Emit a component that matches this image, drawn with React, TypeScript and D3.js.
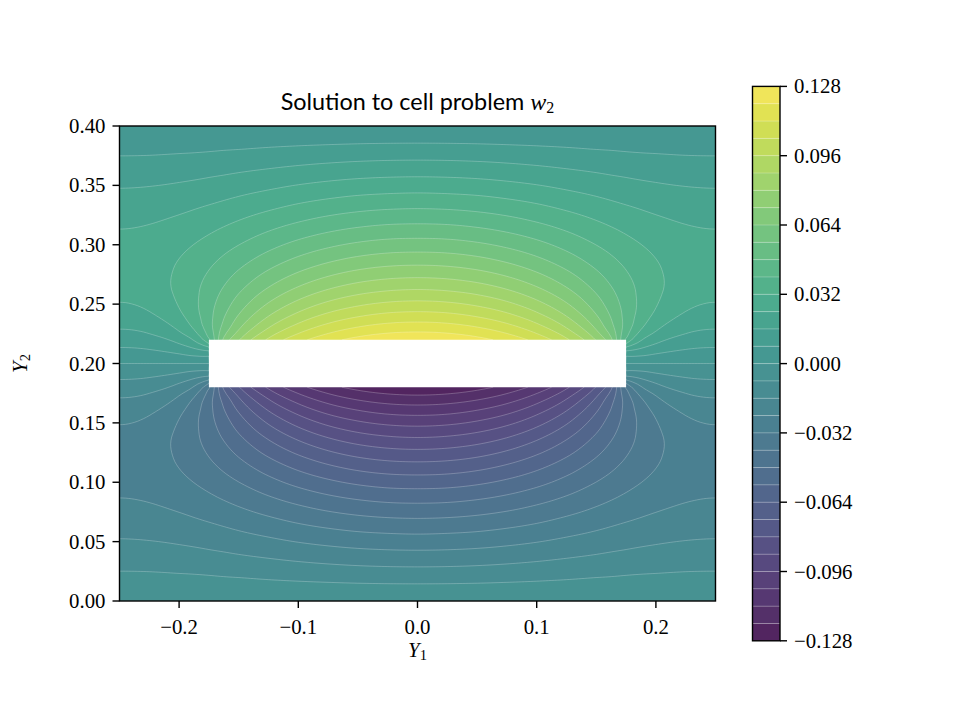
import React, { useMemo } from "react";
import * as d3 from "d3";

// ---------- data (upper-right quadrant of the cell; the field is even in Y1 and odd about Y2 = 0.2) ----------
// sample positions of |Y1|
const Y1_ABS_NODES = [0, 0.025, 0.05, 0.075, 0.1, 0.125, 0.15, 0.1625, 0.175, 0.1875, 0.2, 0.225, 0.25];
// sample positions of Y2 (upper half)
const Y2_NODES = [0.2, 0.21, 0.22, 0.23, 0.24, 0.26, 0.28, 0.3, 0.32, 0.34, 0.36, 0.38, 0.4];
// w2 values in thousandths, one row per Y2 node (null = inside the hole)
const W2_MILLI: (number | null)[][] = [
  [null, null, null, null, null, null, null, null, 0, 0, 0, 0, 0],
  [null, null, null, null, null, null, null, null, 14.4, 12.5, 9.8, 6.8, 6.0],
  [126.5, 125.6, 122.5, 117.2, 109.2, 97.4, 79.3, 65.6, 38.5, 24.8, 18.8, 13.1, 11.6],
  [116.7, 115.7, 112.7, 107.5, 99.5, 88.0, 70.8, 58.8, 44.6, 32.9, 25.7, 18.5, 16.5],
  [107.3, 106.4, 103.4, 98.4, 90.7, 79.9, 64.7, 55.3, 45.4, 36.6, 30.1, 22.7, 20.6],
  [89.9, 89.0, 86.4, 81.9, 75.3, 66.5, 55.5, 49.5, 43.6, 38.2, 33.7, 27.7, 25.7],
  [74.1, 73.4, 71.2, 67.4, 62.1, 55.4, 47.6, 43.6, 39.7, 36.1, 33.0, 28.7, 27.3],
  [59.7, 59.2, 57.4, 54.4, 50.4, 45.4, 39.9, 37.2, 34.5, 32.1, 30.0, 27.0, 26.0],
  [46.5, 46.1, 44.7, 42.5, 39.5, 36.0, 32.2, 30.3, 28.5, 26.8, 25.4, 23.4, 22.7],
  [34.2, 33.8, 32.9, 31.3, 29.3, 26.8, 24.3, 23.0, 21.8, 20.8, 19.8, 18.5, 18.0],
  [22.4, 22.2, 21.6, 20.6, 19.3, 17.8, 16.3, 15.5, 14.8, 14.1, 13.6, 12.8, 12.5],
  [11.1, 11.0, 10.7, 10.2, 9.6, 8.9, 8.1, 7.8, 7.4, 7.1, 6.9, 6.5, 6.4],
  [0, 0, 0, 0, 0, 0, 0, 0, 0, 0, 0, 0, 0],
];
const LEVELS = [
  -0.128, -0.12, -0.112, -0.104, -0.096, -0.088, -0.08, -0.072, -0.064, -0.056, -0.048, -0.04, -0.032, -0.024, -0.016, -0.008,
  0, 0.008, 0.016, 0.024, 0.032, 0.04, 0.048, 0.056, 0.064, 0.072, 0.08, 0.088, 0.096, 0.104, 0.112, 0.12, 0.128,
];
const X_TICKS = [-0.2, -0.1, 0.0, 0.1, 0.2];
const Y_TICKS = [0.0, 0.05, 0.1, 0.15, 0.2, 0.25, 0.3, 0.35, 0.4];
const CBAR_TICKS = [-0.128, -0.096, -0.064, -0.032, 0.0, 0.032, 0.064, 0.096, 0.128];
const DOMAIN_Y1 = [-0.25, 0.25];
const DOMAIN_Y2 = [0, 0.4];
const HOLE_Y1 = [-0.175, 0.175];
const HOLE_Y2 = [0.18, 0.22];

// ---------- layout / style ----------
const PLOT = { left: 119.5, right: 715.5, top: 126, bottom: 601 };
const CBAR = { left: 752.5, right: 780, top: 86.4, bottom: 640.8 };
const ALPHA = 0.9;
const DESAT = 0.22;
const STEP = 0.0025; // rendering resolution of the contour grid
const SERIF = "'Liberation Serif', 'DejaVu Serif', serif";
const SANS = "Lato, 'Open Sans', 'DejaVu Sans', sans-serif";
const FS = 20.8;

// smooth C1 cubic through the samples (weighted centred tangents)
function cubicThrough(xs: number[], ys: number[], flatEnds: boolean) {
  const n = xs.length;
  if (n === 1) return () => ys[0];
  const s: number[] = [];
  for (let k = 0; k < n - 1; k++) s.push((ys[k + 1] - ys[k]) / (xs[k + 1] - xs[k]));
  const m = new Array(n).fill(0);
  for (let k = 1; k < n - 1; k++) {
    const h0 = xs[k] - xs[k - 1], h1 = xs[k + 1] - xs[k];
    m[k] = (s[k - 1] * h1 + s[k] * h0) / (h0 + h1);
  }
  if (flatEnds) {
    m[0] = 0;
    m[n - 1] = 0;
  } else {
    m[0] = n > 2 ? (3 * s[0] - m[1]) / 2 : s[0];
    m[n - 1] = n > 2 ? (3 * s[n - 2] - m[n - 2]) / 2 : s[n - 2];
  }
  return (x: number) => {
    let k = 0;
    while (k < n - 2 && x > xs[k + 1]) k++;
    const h = xs[k + 1] - xs[k];
    const t = (x - xs[k]) / h;
    const t2 = t * t, t3 = t2 * t;
    return (2 * t3 - 3 * t2 + 1) * ys[k] + (t3 - 2 * t2 + t) * h * m[k] + (-2 * t3 + 3 * t2) * ys[k + 1] + (t3 - t2) * h * m[k + 1];
  };
}

function styleColor(c: string) {
  const rgb = d3.rgb(c);
  let r = rgb.r * ALPHA + 255 * (1 - ALPHA);
  let g = rgb.g * ALPHA + 255 * (1 - ALPHA);
  let b = rgb.b * ALPHA + 255 * (1 - ALPHA);
  const L = 0.299 * r + 0.587 * g + 0.114 * b;
  r = r + (L - r) * DESAT;
  g = g + (L - g) * DESAT;
  b = b + (L - b) * DESAT;
  return d3.rgb(r, g, b).formatHex();
}

const bandColor = (k: number) => styleColor(d3.interpolateViridis((k + 0.5) / (LEVELS.length - 1)));

export default function App() {
  const x = d3.scaleLinear().domain(DOMAIN_Y1).range([PLOT.left, PLOT.right]);
  const y = d3.scaleLinear().domain(DOMAIN_Y2).range([PLOT.bottom, PLOT.top]);
  const c = d3.scaleLinear().domain([LEVELS[0], LEVELS[LEVELS.length - 1]]).range([CBAR.bottom, CBAR.top]);

  const contours = useMemo(() => {
    const y2Mid = (DOMAIN_Y2[0] + DOMAIN_Y2[1]) / 2;
    const halfW = DOMAIN_Y1[1];
    const nq = Math.round(halfW / STEP) + 1;
    const np = Math.round((DOMAIN_Y2[1] - y2Mid) / STEP) + 1;
    const rowVals = W2_MILLI.map((row) => {
      const idx = row.map((v, ci) => (v === null ? -1 : ci)).filter((ci) => ci >= 0);
      const xs = idx.map((ci) => Y1_ABS_NODES[ci]);
      const vs = idx.map((ci) => (row[ci] as number) / 1000);
      const f = cubicThrough(xs, vs, true);
      return d3.range(nq).map((q) => {
        const xv = q * STEP;
        return xv < xs[0] - 1e-9 ? NaN : f(xv);
      });
    });
    const Q = d3.range(nq).map((q) => {
      const rIdx = rowVals.map((rv, r) => (isNaN(rv[q]) ? -1 : r)).filter((r) => r >= 0);
      const ys = rIdx.map((r) => Y2_NODES[r]);
      const vs = rIdx.map((r) => rowVals[r][q]);
      const f = cubicThrough(ys, vs, false);
      return d3.range(np).map((p) => {
        const yv = y2Mid + p * STEP;
        return yv < ys[0] - 1e-9 ? NaN : f(yv);
      });
    });
    const surf = Math.round((HOLE_Y2[1] - y2Mid) / STEP);
    const nx = 2 * (nq - 1) + 1;
    const ny = 2 * (np - 1) + 1;
    const vals = new Array(nx * ny);
    for (let j = 0; j < ny; j++) {
      for (let i = 0; i < nx; i++) {
        const q = Math.abs(i - (nq - 1));
        let v: number;
        if (j <= np - 1) {
          v = Q[q][np - 1 - j];
          if (isNaN(v)) v = Q[q][surf];
        } else {
          v = -Q[q][j - (np - 1)];
          if (isNaN(v)) v = -Q[q][surf];
        }
        vals[j * nx + i] = v;
      }
    }
    return d3.contours().size([nx, ny]).thresholds(LEVELS.slice(0, LEVELS.length - 1))(vals);
  }, []);

  const path = d3.geoPath(
    d3.geoTransform({
      point(px: number, py: number) {
        (this as any).stream.point(x(DOMAIN_Y1[0] + (px - 0.5) * STEP), y(DOMAIN_Y2[1] - (py - 0.5) * STEP));
      },
    })
  );

  const fx = d3.format(".1f");
  const fy = d3.format(".2f");
  const fc = d3.format(".3f");
  const nBands = LEVELS.length - 1;

  return (
    <svg width={960} height={720} style={{ position: "absolute", left: 0, top: 0, background: "white" }}>
      <defs>
        <clipPath id="plotclip">
          <rect x={PLOT.left} y={PLOT.top} width={PLOT.right - PLOT.left} height={PLOT.bottom - PLOT.top} />
        </clipPath>
      </defs>
      <g clipPath="url(#plotclip)">
        {contours.map((cs, k) => (
          <path key={"f" + k} d={path(cs as any) || ""} fill={bandColor(k)} stroke="none" />
        ))}
        {contours.map((cs, k) =>
          k === 0 ? null : (
            <path key={"s" + k} d={path(cs as any) || ""} fill="none" stroke="#ffffff" strokeOpacity={0.4} strokeWidth={0.6} />
          )
        )}
        <rect
          x={x(HOLE_Y1[0])}
          y={y(HOLE_Y2[1])}
          width={x(HOLE_Y1[1]) - x(HOLE_Y1[0])}
          height={y(HOLE_Y2[0]) - y(HOLE_Y2[1])}
          fill="white"
        />
      </g>
      <rect x={PLOT.left} y={PLOT.top} width={PLOT.right - PLOT.left} height={PLOT.bottom - PLOT.top} fill="none" stroke="black" strokeWidth={1.4} />
      {X_TICKS.map((t) => (
        <g key={"xt" + t}>
          <line x1={x(t)} x2={x(t)} y1={PLOT.bottom} y2={PLOT.bottom + 7} stroke="black" strokeWidth={1.4} />
          <text x={x(t)} y={PLOT.bottom + 33} textAnchor="middle" fontFamily={SERIF} fontSize={FS}>
            {fx(t)}
          </text>
        </g>
      ))}
      {Y_TICKS.map((t) => (
        <g key={"yt" + t}>
          <line x1={PLOT.left - 7} x2={PLOT.left} y1={y(t)} y2={y(t)} stroke="black" strokeWidth={1.4} />
          <text x={PLOT.left - 14} y={y(t) + 7} textAnchor="end" fontFamily={SERIF} fontSize={FS}>
            {fy(t)}
          </text>
        </g>
      ))}
      <text x={(PLOT.left + PLOT.right) / 2} y={657} textAnchor="middle" fontFamily={SERIF} fontSize={FS}>
        <tspan fontStyle="italic">Y</tspan>
        <tspan fontSize={14.5} dy={3}>1</tspan>
      </text>
      <text transform={`translate(27,${(PLOT.top + PLOT.bottom) / 2}) rotate(-90)`} textAnchor="middle" fontFamily={SERIF} fontSize={FS}>
        <tspan fontStyle="italic">Y</tspan>
        <tspan fontSize={14.5} dy={3}>2</tspan>
      </text>
      <text x={(PLOT.left + PLOT.right) / 2} y={110} textAnchor="middle" fontFamily={SANS} fontSize={23.4}>
        Solution to cell problem{" "}
        <tspan fontFamily={SERIF} fontStyle="italic" fontSize={24}>w</tspan>
        <tspan fontFamily={SERIF} fontSize={16} dy={3}>2</tspan>
      </text>
      {d3.range(nBands).map((k) => (
        <rect
          key={"cb" + k}
          x={CBAR.left}
          y={c(LEVELS[k + 1])}
          width={CBAR.right - CBAR.left}
          height={c(LEVELS[k]) - c(LEVELS[k + 1])}
          fill={bandColor(k)}
        />
      ))}
      {LEVELS.slice(1, LEVELS.length - 1).map((l) => (
        <line key={"cs" + l} x1={CBAR.left} x2={CBAR.right} y1={c(l)} y2={c(l)} stroke="white" strokeOpacity={0.4} strokeWidth={0.6} />
      ))}
      <rect x={CBAR.left} y={CBAR.top} width={CBAR.right - CBAR.left} height={CBAR.bottom - CBAR.top} fill="none" stroke="black" strokeWidth={1.4} />
      {CBAR_TICKS.map((t) => (
        <g key={"ct" + t}>
          <line x1={CBAR.right} x2={CBAR.right + 7} y1={c(t)} y2={c(t)} stroke="black" strokeWidth={1.4} />
          <text x={CBAR.right + 14} y={c(t) + 7} fontFamily={SERIF} fontSize={FS}>
            {fc(t)}
          </text>
        </g>
      ))}
    </svg>
  );
}
